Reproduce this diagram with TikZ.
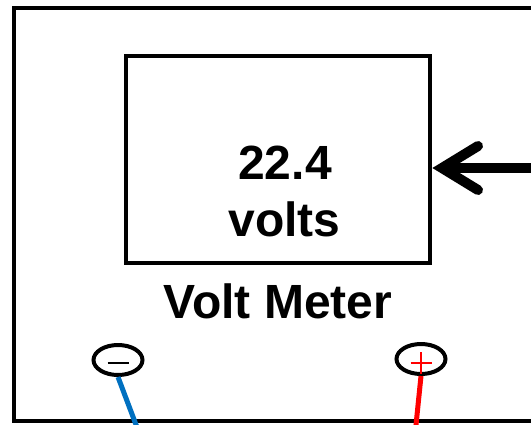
\documentclass[tikz,border=0pt]{standalone}
\usepackage{fontspec}
\setmainfont{Liberation Sans}
\usetikzlibrary{shapes.geometric}
\definecolor{wireblue}{HTML}{0070C0}
\definecolor{wirered}{HTML}{FF0000}
\tikzset{
  frame/.style={draw, line width=4pt, line join=miter},
  bigtext/.style={font=\fontsize{48}{50}\selectfont\bfseries, inner sep=0pt, anchor=base},
  terminal/.style={ellipse, draw, line width=4pt, minimum width=49pt, minimum height=30pt, inner sep=0pt},
  wire/.style={line width=5pt},
  bigarrow/.style={line width=10pt, line cap=round, line join=miter}
}
\begin{document}
\begin{tikzpicture}[x=1pt,y=-1pt]
\useasboundingbox (0,0) rectangle (531,424);
\clip (0,0) rectangle (531,424);
% outer case
\node[frame, minimum width=540pt, minimum height=413pt, inner sep=0pt] (case) at (284,214.5) {};
% display
\node[frame, minimum width=304pt, minimum height=207pt, inner sep=0pt] (meter) at (278,159.5) {};
\node[bigtext] (value) at (285,179) {22.4};
\node[bigtext] (unit) at (284.5,236) {volts};
\node[bigtext] (label) at (278,318.5) {Volt Meter};
% arrow
\coordinate (arrowstart) at (545,168);
\coordinate (tip) at (442,168);
\draw[line width=10pt] (arrowstart) -- (tip);
\draw[bigarrow] (478,146) -- (tip) -- (478,190);
% terminals
\node[terminal] (minus) at (118,360) {};
\node[terminal] (plus) at (421,359) {};
\draw[line width=2pt] ([xshift=-10.5pt,yshift=-3pt]minus.center) -- ([xshift=10.5pt,yshift=-3pt]minus.center);
\draw[wirered, line width=2pt] ([xshift=-10.5pt,yshift=-4pt]plus.center) -- ([xshift=10.5pt,yshift=-4pt]plus.center);
\draw[wirered, line width=2pt] ([yshift=7pt]plus.center) -- ([yshift=-15pt]plus.center);
% wires
\coordinate (blueend) at (138,430);
\coordinate (redend) at (415.5,430);
\draw[wire, wireblue] (minus.south) -- (blueend);
\draw[wire, wirered] (plus.south) -- (redend);
\end{tikzpicture}
\end{document}
